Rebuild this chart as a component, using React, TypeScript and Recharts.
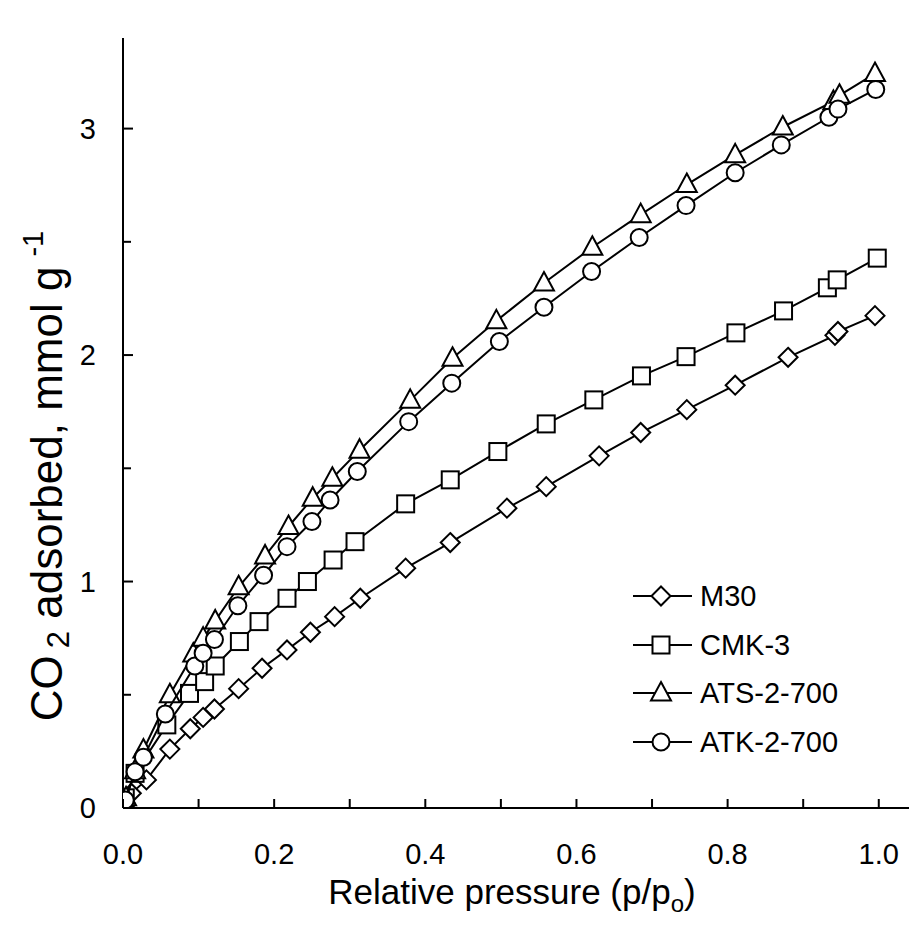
import { ScatterChart, Scatter, XAxis, YAxis } from 'recharts';

const seriesNames = ['M30', 'CMK-3', 'ATS-2-700', 'ATK-2-700'];
const markerKinds = ['diamond', 'square', 'triangle', 'circle'];

const m30X = [0.003, 0.011, 0.031, 0.062, 0.089, 0.106, 0.121, 0.153, 0.184, 0.217, 0.248, 0.28, 0.314, 0.374, 0.433, 0.508, 0.56, 0.63, 0.685, 0.746, 0.81, 0.88, 0.942, 0.946, 0.995];
const m30Y = [0.02, 0.065, 0.124, 0.26, 0.35, 0.4, 0.437, 0.527, 0.617, 0.698, 0.776, 0.845, 0.926, 1.059, 1.172, 1.324, 1.419, 1.555, 1.658, 1.759, 1.867, 1.99, 2.087, 2.104, 2.174];

const cmkX = [0.003, 0.016, 0.058, 0.088, 0.108, 0.122, 0.154, 0.18, 0.217, 0.244, 0.278, 0.307, 0.374, 0.433, 0.496, 0.56, 0.623, 0.686, 0.745, 0.811, 0.874, 0.932, 0.945, 0.998];
const cmkY = [0.045, 0.153, 0.367, 0.506, 0.558, 0.627, 0.735, 0.823, 0.926, 1.0, 1.095, 1.176, 1.343, 1.449, 1.574, 1.696, 1.802, 1.908, 1.993, 2.098, 2.195, 2.297, 2.332, 2.428];

const atsX = [0.004, 0.016, 0.027, 0.062, 0.093, 0.106, 0.122, 0.153, 0.188, 0.219, 0.251, 0.277, 0.313, 0.38, 0.436, 0.494, 0.557, 0.621, 0.685, 0.746, 0.81, 0.873, 0.94, 0.948, 0.995];
const atsY = [0.045, 0.165, 0.256, 0.5, 0.68, 0.75, 0.826, 0.977, 1.113, 1.243, 1.368, 1.456, 1.58, 1.8, 1.986, 2.151, 2.318, 2.476, 2.62, 2.753, 2.884, 3.007, 3.12, 3.147, 3.243];

const atkX = [0.003, 0.016, 0.027, 0.056, 0.095, 0.106, 0.121, 0.152, 0.186, 0.217, 0.25, 0.274, 0.31, 0.378, 0.435, 0.498, 0.557, 0.62, 0.683, 0.745, 0.81, 0.871, 0.934, 0.946, 0.996];
const atkY = [0.035, 0.16, 0.224, 0.415, 0.627, 0.683, 0.744, 0.893, 1.028, 1.154, 1.265, 1.36, 1.486, 1.706, 1.876, 2.06, 2.211, 2.369, 2.519, 2.66, 2.805, 2.928, 3.05, 3.086, 3.173];

const xTicks = [0, 0.1, 0.2, 0.3, 0.4, 0.5, 0.6, 0.7, 0.8, 0.9, 1.0];
const yTicks = [0, 0.5, 1, 1.5, 2, 2.5, 3];

const FONT = '"Liberation Sans", Arial, sans-serif';

const toPoints = (xs: number[], ys: number[]) => xs.map((x, i) => ({ x, y: ys[i] }));

const series = [
  toPoints(m30X, m30Y),
  toPoints(cmkX, cmkY),
  toPoints(atsX, atsY),
  toPoints(atkX, atkY),
];

function Marker({ kind, cx, cy }: { kind: string; cx: number; cy: number }) {
  const s = { fill: '#fff', stroke: '#000', strokeWidth: 2 };
  if (kind === 'diamond')
    return <polygon points={`${cx},${cy - 9.5} ${cx + 9.5},${cy} ${cx},${cy + 9.5} ${cx - 9.5},${cy}`} {...s} />;
  if (kind === 'square') return <rect x={cx - 8.5} y={cy - 8.5} width={17} height={17} {...s} />;
  if (kind === 'triangle')
    return <polygon points={`${cx},${cy - 11} ${cx + 10},${cy + 7.5} ${cx - 10},${cy + 7.5}`} {...s} />;
  return <circle cx={cx} cy={cy} r={8.5} {...s} />;
}

const XTick = (props: any) => {
  const { x, y, payload } = props;
  const major = Math.round(payload.value * 10) % 2 === 0;
  return (
    <g>
      <line x1={x} x2={x} y1={y} y2={y - 9} stroke="#000" strokeWidth={2} />
      {major && (
        <text x={x} y={y + 56} textAnchor="middle" fontSize={29} fontFamily={FONT} fill="#000">
          {payload.value.toFixed(1)}
        </text>
      )}
    </g>
  );
};

const YTick = (props: any) => {
  const { x, y, payload } = props;
  const major = Number.isInteger(payload.value);
  return (
    <g>
      <line x1={x} x2={x + (major ? 10 : 8)} y1={y} y2={y} stroke="#000" strokeWidth={2} />
      {major && (
        <text x={x - 27} y={y + 10} textAnchor="end" fontSize={29} fontFamily={FONT} fill="#000">
          {payload.value}
        </text>
      )}
    </g>
  );
};

export default function App() {
  const legendRows = [596, 645, 693, 742];
  return (
    <div style={{ position: 'absolute', left: 0, top: 0, width: 910, height: 931, background: '#fff' }}>
      <ScatterChart width={910} height={931} margin={{ top: 38, right: 1, bottom: 122, left: 122 }}>
        <XAxis
          type="number"
          dataKey="x"
          domain={[0, 1.04]}
          ticks={xTicks}
          interval={0}
          height={1}
          tickSize={0}
          tickMargin={0}
          tickLine={false}
          tick={XTick}
          axisLine={{ stroke: '#000', strokeWidth: 2 }}
          allowDataOverflow
        />
        <YAxis
          type="number"
          dataKey="y"
          domain={[0, 3.4]}
          ticks={yTicks}
          interval={0}
          width={1}
          tickSize={0}
          tickMargin={0}
          tickLine={false}
          tick={YTick}
          axisLine={{ stroke: '#000', strokeWidth: 2 }}
          allowDataOverflow
        />
        {series.map((data, i) => (
          <Scatter
            key={seriesNames[i]}
            name={seriesNames[i]}
            data={data}
            line={{ stroke: '#000', strokeWidth: 2 }}
            lineType="joint"
            isAnimationActive={false}
            shape={(p: any) => <Marker kind={markerKinds[i]} cx={p.cx} cy={p.cy} />}
          />
        ))}
      </ScatterChart>
      <svg
        width={910}
        height={931}
        style={{ position: 'absolute', left: 0, top: 0, pointerEvents: 'none' }}
      >
        {seriesNames.map((name, i) => (
          <g key={name}>
            <line x1={633} x2={692} y1={legendRows[i]} y2={legendRows[i]} stroke="#000" strokeWidth={2} />
            <Marker kind={markerKinds[i]} cx={661} cy={legendRows[i]} />
            <text x={700} y={legendRows[i] + 10} fontSize={29} fontFamily={FONT} fill="#000">
              {name}
            </text>
          </g>
        ))}
        <text x={512} y={904} textAnchor="middle" fontSize={35} fontFamily={FONT} fill="#000">
          Relative pressure (p/p
          <tspan fontSize={24} dy={8}>o</tspan>
          <tspan dy={-8}>)</tspan>
        </text>
        <text
          transform="translate(62,476) rotate(-90)"
          textAnchor="middle"
          fontSize={44}
          fontFamily={FONT}
          fill="#000"
        >
          CO
          <tspan fontSize={31} dx={7} dy={7}>2</tspan>
          <tspan dy={-7}> adsorbed, mmol g</tspan>
          <tspan fontSize={29} dx={10} dy={-19}>-1</tspan>
        </text>
      </svg>
    </div>
  );
}
